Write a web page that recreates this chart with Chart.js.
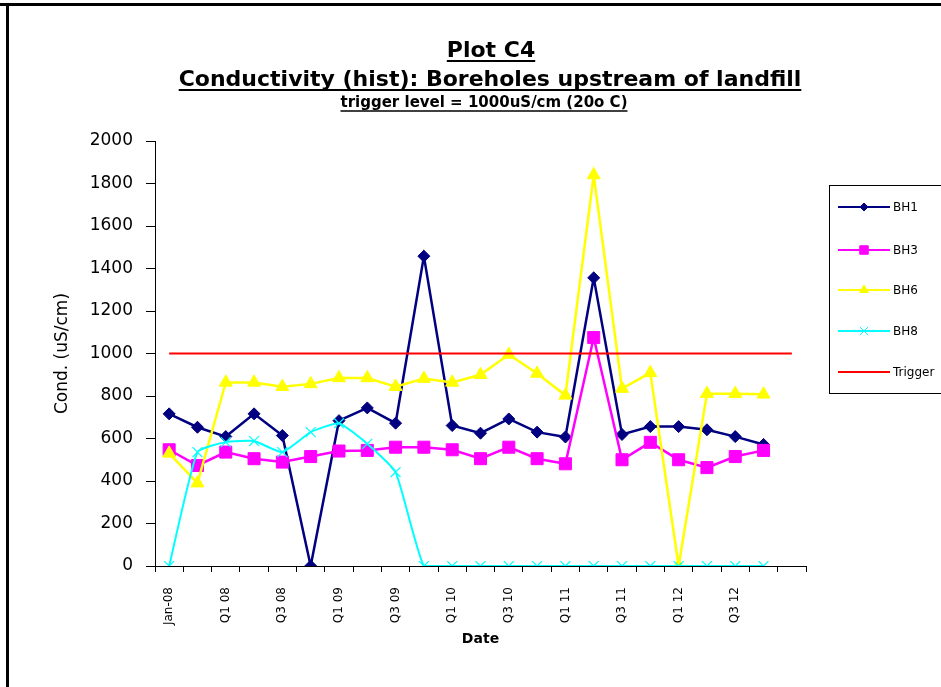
<!DOCTYPE html>
<html>
<head>
<meta charset="utf-8">
<title>Plot C4</title>
<script src="https://cdn.jsdelivr.net/npm/chart.js@4.4.1/dist/chart.umd.min.js"></script>
<style>
    html, body { margin: 0; padding: 0; background: #fff; }
    #wrap { position: relative; width: 941px; height: 687px; }
</style>
</head>
<body>
<div id="wrap"><canvas id="plotC4"></canvas></div>
<script>
// Quarterly sample dates (only every other label is printed on the axis)
const dateLabels = ['Jan-08', '', 'Q1 08', '', 'Q3 08', '', 'Q1 09', '', 'Q3 09', '', 'Q1 10', '',
    'Q3 10', '', 'Q1 11', '', 'Q3 11', '', 'Q1 12', '', 'Q3 12', '', ''];

// Conductivity readings, uS/cm
const bh1 = [716, 653, 609, 716, 614, 0, 684, 744, 672, 1458, 661, 625, 692, 630, 607, 1356, 619, 656, 656, 641, 609, 572, null];
const bh3 = [547, 473, 536, 505, 489, 515, 541, 544, 559, 559, 547, 505, 559, 505, 481, 1075, 500, 582, 500, 463, 515, 544, null];
const bh6 = [530, 390, 864, 864, 844, 857, 885, 885, 844, 882, 864, 900, 995, 906, 803, 1840, 835, 909, 0, 811, 811, 808, null];
const bh8 = [0, 536, 583, 588, 536, 630, 672, 575, 442, 0, 0, 0, 0, 0, 0, 0, 0, 0, 0, 0, 0, 0, null];
const trigger = [1000, 1000, 1000, 1000, 1000, 1000, 1000, 1000, 1000, 1000, 1000, 1000,
    1000, 1000, 1000, 1000, 1000, 1000, 1000, 1000, 1000, 1000, 1000];

const yTicks = [0, 200, 400, 600, 800, 1000, 1200, 1400, 1600, 1800, 2000];

const titleLines = ['Plot C4', 'Conductivity (hist): Boreholes upstream of landfill'];
const subTitle = 'trigger level = 1000uS/cm (20o C)';

const FONT = "'DejaVu Sans', Arial, sans-serif";

/**
 * White background plus the thick black frame along the top and left edge.
 */
const framePlugin = {
    id: 'frame',
    beforeDraw(chart) {
        const ctx = chart.ctx;
        ctx.save();
        ctx.fillStyle = '#ffffff';
        ctx.fillRect(0, 0, chart.width, chart.height);
        ctx.fillStyle = '#000000';
        ctx.fillRect(0, 3, chart.width, 3);
        ctx.fillRect(6, 3, 3, chart.height);
        ctx.restore();
    }
};

/**
 * Underlined title block, drawn by hand since Chart.js titles can't underline.
 */
const titlePlugin = {
    id: 'underlinedTitle',
    afterDraw(chart) {
        const ctx = chart.ctx;
        const rows = [
            { text: titleLines[0], x: 491, y: 57, size: 22 },
            { text: titleLines[1], x: 490, y: 86, size: 22 },
            { text: subTitle, x: 484, y: 107, size: 15 }
        ];
        ctx.save();
        ctx.fillStyle = '#000';
        ctx.strokeStyle = '#000';
        ctx.textAlign = 'center';
        ctx.textBaseline = 'alphabetic';
        rows.forEach(row => {
            ctx.font = `bold ${row.size}px ${FONT}`;
            ctx.fillText(row.text, row.x, row.y);
            const w = ctx.measureText(row.text).width;
            ctx.lineWidth = row.size > 18 ? 2 : 1.5;
            ctx.beginPath();
            ctx.moveTo(row.x - w / 2, row.y + 4);
            ctx.lineTo(row.x + w / 2, row.y + 4);
            ctx.stroke();
        });
        ctx.restore();
    }
};

/**
 * Boxed legend on the right, cut off by the page edge like the original.
 */
const legendPlugin = {
    id: 'boxLegend',
    afterDraw(chart) {
        const ctx = chart.ctx;
        const box = { x: 829.5, y: 185.5, w: 130, h: 208 };
        ctx.save();
        ctx.fillStyle = '#fff';
        ctx.fillRect(box.x, box.y, box.w, box.h);
        ctx.strokeStyle = '#000';
        ctx.lineWidth = 1;
        ctx.strokeRect(box.x, box.y, box.w, box.h);

        const rowsY = [207, 250, 290, 331, 372];
        chart.data.datasets.forEach((ds, i) => {
            const y = rowsY[i];
            ctx.strokeStyle = ds.borderColor;
            ctx.lineWidth = 2;
            ctx.beginPath();
            ctx.moveTo(838, y);
            ctx.lineTo(890, y);
            ctx.stroke();
            if (ds.pointStyle && ds.pointRadius > 0) {
                ctx.fillStyle = ds.pointBackgroundColor;
                ctx.strokeStyle = ds.pointBorderColor;
                ctx.lineWidth = 1;
                Chart.helpers.drawPoint(ctx, {
                    pointStyle: ds.pointStyle,
                    radius: ds.legendRadius,
                    rotation: 0,
                    borderWidth: 1
                }, 864, y);
            }
            ctx.fillStyle = '#000';
            ctx.font = `12px ${FONT}`;
            ctx.textAlign = 'left';
            ctx.textBaseline = 'middle';
            ctx.fillText(ds.label, 893, y + 1);
        });
        ctx.restore();
    }
};

const canvas = document.getElementById('plotC4');
new Chart(canvas.getContext('2d'), {
    type: 'line',
    data: {
        labels: dateLabels,
        datasets: [
            {
                label: 'BH1',
                data: bh1,
                borderColor: '#000080',
                borderWidth: 2.5,
                pointStyle: 'rectRot',
                pointRadius: 6,
                legendRadius: 4,
                pointBackgroundColor: '#000080',
                pointBorderColor: '#000080',
                pointBorderWidth: 1,
                tension: 0,
                order: 5
            },
            {
                label: 'BH3',
                data: bh3,
                borderColor: '#ff00ff',
                borderWidth: 2.5,
                pointStyle: 'rect',
                pointRadius: 8.5,
                legendRadius: 6,
                pointBackgroundColor: '#ff00ff',
                pointBorderColor: '#ff00ff',
                pointBorderWidth: 1,
                tension: 0,
                order: 4
            },
            {
                label: 'BH6',
                data: bh6,
                borderColor: '#ffff00',
                borderWidth: 2.5,
                pointStyle: 'triangle',
                pointRadius: 7.5,
                legendRadius: 5,
                pointBackgroundColor: '#ffff00',
                pointBorderColor: '#ffff00',
                pointBorderWidth: 1,
                tension: 0,
                order: 3
            },
            {
                label: 'BH8',
                data: bh8,
                borderColor: '#00ffff',
                borderWidth: 2,
                pointStyle: 'crossRot',
                pointRadius: 7,
                legendRadius: 6,
                pointBackgroundColor: '#00ffff',
                pointBorderColor: '#00ffff',
                pointBorderWidth: 1.2,
                tension: 0.15,
                order: 2
            },
            {
                label: 'Trigger',
                data: trigger,
                borderColor: '#ff0000',
                borderWidth: 2,
                pointRadius: 0,
                tension: 0,
                order: 1
            }
        ]
    },
    options: {
        responsive: true,
        maintainAspectRatio: false,
        animation: false,
        spanGaps: false,
        layout: {
            padding: { top: 141, right: 135, bottom: 30, left: 52 }
        },
        plugins: {
            legend: { display: false },
            title: { display: false },
            tooltip: { enabled: false }
        },
        scales: {
            x: {
                type: 'category',
                offset: true,
                grid: {
                    offset: true,
                    drawOnChartArea: false,
                    drawTicks: true,
                    tickLength: 6,
                    tickColor: '#000',
                    tickWidth: 1
                },
                border: { display: true, color: '#000', width: 1 },
                ticks: {
                    autoSkip: false,
                    minRotation: 90,
                    maxRotation: 90,
                    padding: 15,
                    color: '#000',
                    font: { family: FONT, size: 12 }
                },
                title: {
                    display: true,
                    text: 'Date',
                    color: '#000',
                    font: { family: FONT, size: 14, weight: 'bold' },
                    padding: { top: 0, bottom: 9 }
                },
                afterFit(scale) {
                    scale.height = 91;
                }
            },
            y: {
                min: 0,
                max: 2000,
                afterBuildTicks(scale) {
                    scale.ticks = yTicks.map(v => ({ value: v }));
                },
                grid: {
                    drawOnChartArea: false,
                    drawTicks: true,
                    tickLength: 9,
                    tickColor: '#000',
                    tickWidth: 1
                },
                border: { display: true, color: '#000', width: 1 },
                ticks: {
                    padding: 13,
                    color: '#000',
                    font: { family: FONT, size: 17 },
                    callback: value => String(value)
                },
                title: {
                    display: true,
                    text: 'Cond. (uS/cm)',
                    color: '#000',
                    font: { family: FONT, size: 17 },
                    padding: { top: 0, bottom: 0 }
                },
                afterFit(scale) {
                    scale.width = 103;
                }
            }
        }
    },
    plugins: [framePlugin, titlePlugin, legendPlugin]
});
</script>
</body>
</html>
